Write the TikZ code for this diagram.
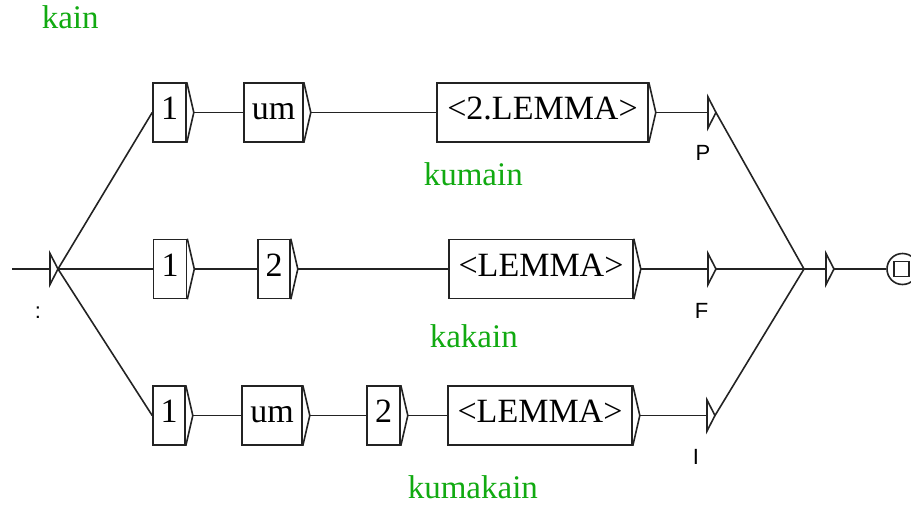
\documentclass[tikz,border=0pt]{standalone}
\usepackage{fontspec}
\setmainfont{Liberation Serif}
\newfontfamily\lsans{Liberation Sans}
\usetikzlibrary{calc}
\definecolor{lblgreen}{RGB}{17,170,17}
\definecolor{ln}{RGB}{35,35,35}
\begin{document}
\begin{tikzpicture}[x=0.5pt,y=-0.5pt,line width=0.8pt,draw=ln,
  box/.style={draw=ln,inner sep=0pt,minimum height=29.5pt,text height=11pt,text depth=4pt,font=\fontsize{17}{19}\selectfont,text=black},
  outlbl/.style={inner sep=0pt,font=\lsans\fontsize{11}{12}\selectfont,text=black},
  grn/.style={inner sep=0pt,anchor=base west,font=\fontsize{16.5}{19}\selectfont,text=lblgreen}]
\useasboundingbox (0,0) rectangle (911,504);
% boxes
\node[box,minimum width=16.5pt] (t1) at (169.5,112.5) {1};
\node[box,minimum width=29.5pt] (tum) at (273.5,112.5) {um};
\node[box,minimum width=105.5pt] (tL) at (542.5,112.5) {<2.LEMMA>};
\node[box,minimum width=16.5pt] (m1) at (170,269) {1};
\node[box,minimum width=16pt] (m2) at (274,269) {2};
\node[box,minimum width=92pt] (mL) at (541,269) {<LEMMA>};
\node[box,minimum width=16pt] (b1) at (169,415.5) {1};
\node[box,minimum width=30pt] (bum) at (272,415.5) {um};
\node[box,minimum width=16.5pt] (b2) at (383.5,415.5) {2};
\node[box,minimum width=92pt] (bL) at (540,415.5) {<LEMMA>};
\foreach \n in {t1,tum,tL,m1,m2,mL,b1,bum,b2,bL}{
  \draw (\n.north east) -- ($(\n.east)+(7,0)$) coordinate (\n-t) -- (\n.south east);
}
% initial state
\coordinate (i0) at (12,269);
\coordinate (ileft) at (50,269);
\draw (50,253.5) -- (58,269) coordinate (itip) -- (50,284.5) -- cycle;
\draw (i0) -- (ileft);
\node[outlbl] (colon) at (38,312.5) {:};
\draw (itip) -- (t1.west);
\draw (itip) -- (m1.west);
\draw (itip) -- (b1.west);
% connectors in rows
\draw (t1-t) -- (tum.west);
\draw (tum-t) -- (tL.west);
\draw (m1-t) -- (m2.west);
\draw (m2-t) -- (mL.west);
\draw (b1-t) -- (bum.west);
\draw (bum-t) -- (b2.west);
\draw (b2-t) -- (bL.west);
% output triangles
\coordinate (oP) at (708,112.5);
\coordinate (oF) at (708,269);
\coordinate (oI) at (707,415.5);
\coordinate (mg) at (804,269);
\foreach \o in {oP,oF,oI}{
  \draw ($(\o)+(0,-15.5)$) -- ($(\o)+(8,0)$) coordinate (\o-t) -- ($(\o)+(0,15.5)$) -- cycle;
  \draw (\o-t) -- (mg);
}
\draw (tL-t) -- (oP);
\draw (mL-t) -- (oF);
\draw (bL-t) -- (oI);
\node[outlbl] (lP) at (703,153) {P};
\node[outlbl] (lF) at (701.5,310.5) {F};
\node[outlbl] (lI) at (696,457) {I};
% final
\coordinate (fl) at (826,269);
\draw (826,253.5) -- (834,269) coordinate (ftip) -- (826,284.5) -- cycle;
\draw (mg) -- (fl);
\node[draw=ln,circle,inner sep=0pt,minimum size=15.5pt] (fin) at (902.5,269) {};
\node[draw=ln,inner sep=0pt,minimum size=7.5pt] (finsq) at (901.5,269) {};
\draw (ftip) -- (fin.west);
% green labels
\node[grn] (g0) at (41,28) {kain};
\node[grn] (g1) at (423,185) {kumain};
\node[grn] (g2) at (429,347) {kakain};
\node[grn] (g3) at (407,498) {kumakain};
\end{tikzpicture}
\end{document}
